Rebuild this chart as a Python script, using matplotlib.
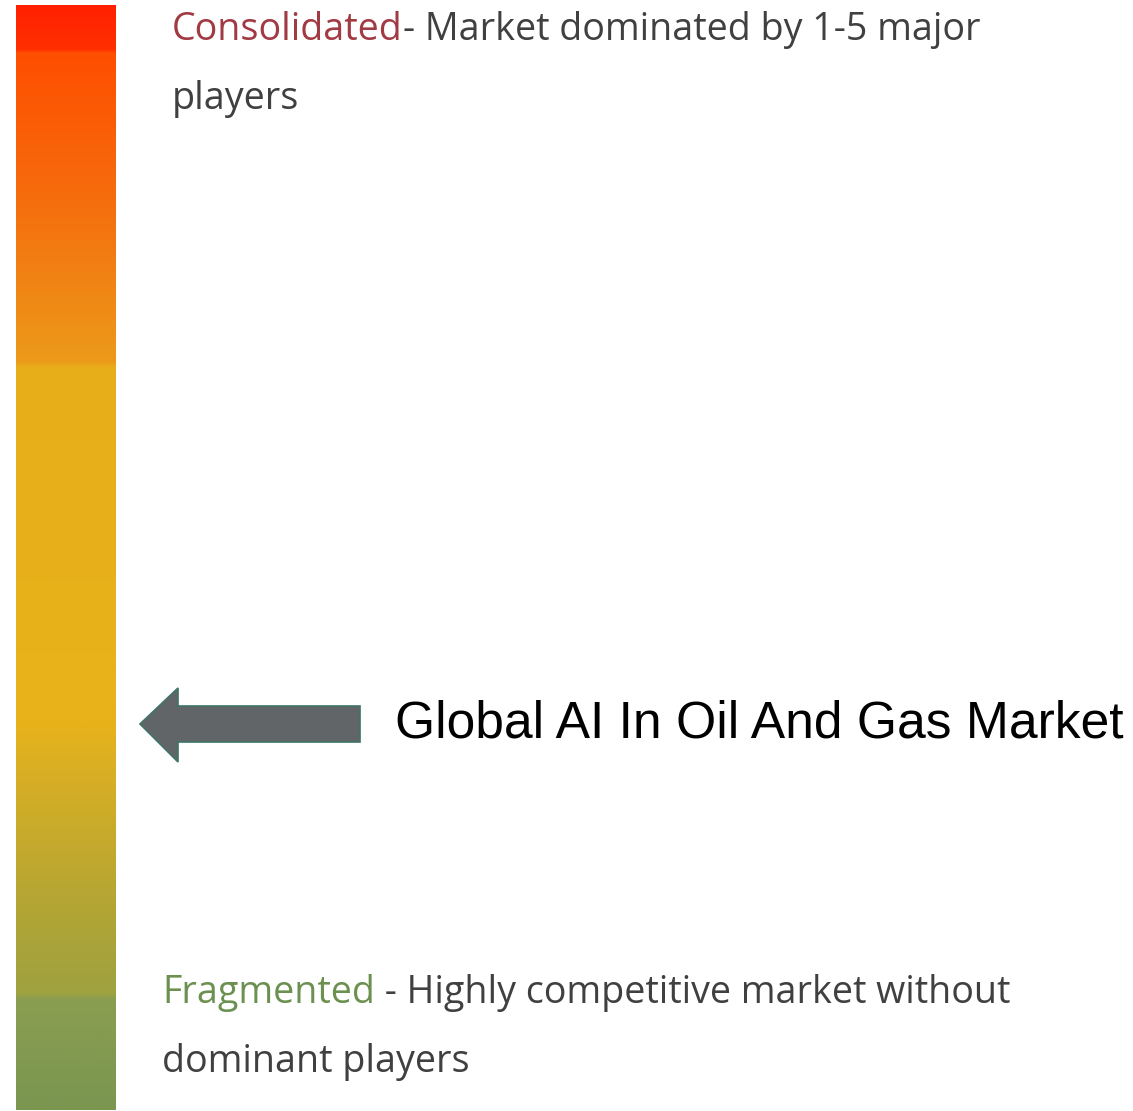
import matplotlib
matplotlib.use("Agg")
import matplotlib.pyplot as plt
import numpy as np
from matplotlib.colors import LinearSegmentedColormap, to_rgb
from matplotlib.patches import Polygon

W, H = 1133, 1111
DPI = 100

# Scale labels
top_label = "Consolidated"
top_text_line1 = "- Market dominated by 1-5 major"
top_text_line2 = "players"
bottom_label = "Fragmented"
bottom_text_line1 = " - Highly competitive market without"
bottom_text_line2 = "dominant players"
market_name = "Global AI In Oil And Gas Market"

# Gradient of the concentration scale (fraction from top, colour)
scale_stops = [
    (0.000, "#FF2000"),
    (0.040, "#FF3000"),
    (0.043, "#FF4E00"),
    (0.180, "#F56E0E"),
    (0.322, "#EC9A1A"),
    (0.328, "#E8AE1A"),
    (0.650, "#E7B31A"),
    (0.680, "#DDB022"),
    (0.820, "#B2A535"),
    (0.895, "#9EA240"),
    (0.900, "#8A9E50"),
    (1.000, "#7A9650"),
]

fig = plt.figure(figsize=(W / DPI, H / DPI), dpi=DPI)
ax = fig.add_axes([0, 0, 1, 1])
ax.set_xlim(0, W)
ax.set_ylim(H, 0)
ax.axis("off")

cmap = LinearSegmentedColormap.from_list(
    "scale", [(p, to_rgb(c)) for p, c in scale_stops], N=1024)
grad = np.linspace(0, 1, 1024).reshape(-1, 1)
bar_x0, bar_x1, bar_y0, bar_y1 = 16, 116, 5, 1110
ax.imshow(grad, cmap=cmap, aspect="auto", interpolation="bilinear",
          extent=(bar_x0, bar_x1, bar_y1, bar_y0), zorder=1)

# Arrow pointing at the scale
arrow = Polygon([(140, 724), (178, 688), (178, 706), (360, 706),
                 (360, 742), (178, 742), (178, 762)],
                closed=True, facecolor="#616568", edgecolor="#3F7466",
                linewidth=1.2, zorder=3)
ax.add_patch(arrow)

ax.text(395, 737, market_name, fontsize=37.2, family="Liberation Sans",
        color="#000000", va="baseline", ha="left")

fig.canvas.draw()
renderer = fig.canvas.get_renderer()
font = ["Open Sans", "DejaVu Sans"]
fs = 27.1


def inline(x, y, parts):
    """Draw coloured text segments one after another on the same baseline."""
    for s, col in parts:
        t = ax.text(x, y, s, fontsize=fs, family=font, color=col,
                    va="baseline", ha="left")
        bb = t.get_window_extent(renderer)
        x0, _ = ax.transData.inverted().transform((bb.x0, bb.y0))
        x1, _ = ax.transData.inverted().transform((bb.x1, bb.y0))
        x += (x1 - x0)
    return x


inline(172, 40, [(top_label, "#A23A44"), (top_text_line1, "#404040")])
inline(172, 109, [(top_text_line2, "#404040")])
inline(162, 1003, [(bottom_label, "#6B9050"), (bottom_text_line1, "#404040")])
inline(162, 1072, [(bottom_text_line2, "#404040")])

fig.savefig("out.png", dpi=DPI, facecolor="white")
